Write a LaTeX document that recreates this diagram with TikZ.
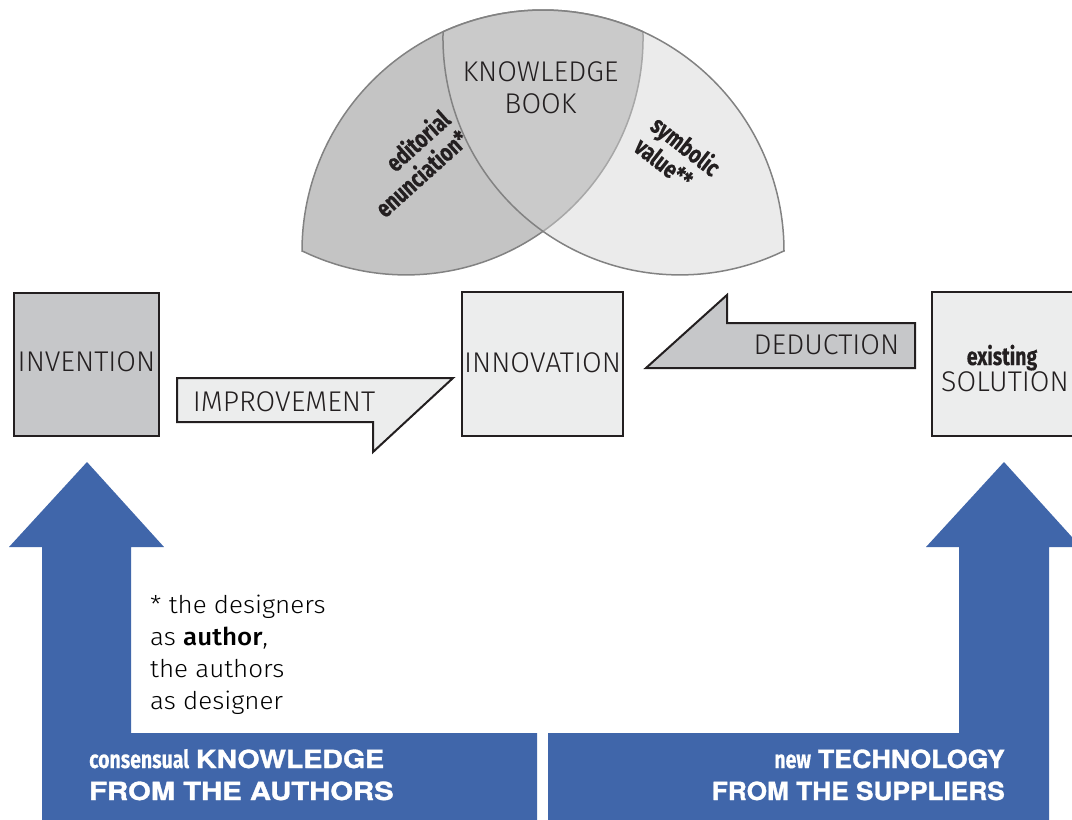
\documentclass[tikz,border=0pt]{standalone}
\usepackage{fontspec}
\usepackage{graphicx}
\setmainfont{Fira Sans Light}[BoldFont={Fira Sans Medium}]
\newfontfamily\firab{Fira Sans}[BoldFeatures={FakeBold=0.4}]
\newfontfamily\heros{TeX Gyre Heros}[BoldFeatures={FakeBold=1.2}]
\definecolor{boxdark}{HTML}{C6C7C9}
\definecolor{boxlight}{HTML}{ECEDED}
\definecolor{linedark}{HTML}{231F20}
\definecolor{bblue}{HTML}{4066AA}
\definecolor{lensleft}{HTML}{C4C4C4}
\definecolor{lensright}{HTML}{D3D3D3}
\definecolor{lensline}{HTML}{828282}
\newcommand{\cnd}[1]{{\firab\bfseries\scalebox{0.78}[1]{#1}}}
\newcommand{\hvy}[2][1.15]{{\heros\bfseries\scalebox{#1}[1]{#2}}}
\newcommand{\wid}[1]{\scalebox{1.06}[1]{#1}}
\begin{document}
\begin{tikzpicture}[x=1pt,y=1pt,
  box/.style={draw=linedark, line width=2pt, inner sep=0pt},
  shapearrow/.style={draw=linedark, line width=2pt, line join=miter},
  lbl/.style={font=\fontsize{28.5}{30}\selectfont, text=linedark, anchor=base, inner sep=0pt},
  lens/.style={draw=lensline, line width=1.5pt},
  rot/.style={font=\fontsize{25}{27}\selectfont, text=linedark, inner sep=0pt},
  note/.style={font=\fontsize{24.5}{32}\selectfont, text=black, anchor=base west, inner sep=0pt},
  bar/.style={font=\fontsize{25}{30}\selectfont, text=white, inner sep=0pt}]
\useasboundingbox (0,0) rectangle (1072,-820);
\clip (0,0) rectangle (1072,-820);
% lenses
\path[lens, fill=lensleft] (302,-251) arc[start angle=180,end angle=65.5,radius=241pt]
  arc[start angle=1.5,end angle=-115.6,radius=237pt] -- cycle;
\path[lens, fill=lensright, fill opacity=0.46] (784,-251) arc[start angle=0,end angle=114.5,radius=241pt]
  arc[start angle=178.5,end angle=295.6,radius=237pt] -- cycle;
\node[lbl] (kb1) at (540.5,-81.7) {KNOWLEDGE};
\node[lbl] (kb2) at (540.5,-113.3) {BOOK};
\node[rot, rotate=42, align=right] (edit) at (412,-163) {\cnd{editorial}\\\cnd{enunciation*}};
\node[rot, rotate=-38, align=left] (symb) at (678,-156) {\cnd{symbolic}\\\cnd{value**}};
% boxes
\node[box, fill=boxdark, minimum width=145pt, minimum height=143pt] (inv) at (86.5,-364.5) {};
\node[lbl] (invt) at (86.5,-371.7) {INVENTION};
\node[box, fill=boxlight, minimum width=161pt, minimum height=144pt] (inn) at (542.5,-364) {};
\node[lbl] (innt) at (542.5,-372) {INNOVATION};
\node[box, fill=boxlight, minimum width=160pt, minimum height=144pt] (sol) at (1012,-364) {};
\node[lbl, font=\fontsize{25}{28}\selectfont] (solt0) at (1002,-365) {\cnd{existing}};
\node[lbl] (solt) at (1005,-391.7) {SOLUTION};
% arrows
\draw[shapearrow, fill=boxlight] (177,-378) -- (453,-378) -- (373,-452) -- (373,-422) -- (177,-422) -- cycle;
\node[lbl] (impt) at (284,-411.7) {IMPROVEMENT};
\draw[shapearrow, fill=boxdark] (727,-295) -- (727,-323) -- (915,-323) -- (915,-368) -- (646,-368) -- cycle;
\node[lbl] (dedt) at (826.5,-354) {DEDUCTION};
% blue arrows
\fill[bblue] (87,-462) -- (164,-547) -- (131,-547) -- (131,-733) -- (537,-733) -- (537,-825)
  -- (42,-825) -- (42,-547) -- (9,-547) -- cycle;
\fill[bblue] (1004,-462) -- (1081,-547) -- (1049,-547) -- (1049,-825) -- (548,-825) -- (548,-733)
  -- (959,-733) -- (959,-547) -- (926,-547) -- cycle;
\node[bar, anchor=base west] (bl1) at (89,-768) {\cnd{consensual} \hvy[1.14]{KNOWLEDGE}};
\node[bar, anchor=base west] (bl2) at (89,-800) {\hvy[1.17]{FROM THE AUTHORS}};
\node[bar, anchor=base east] (br1) at (1005,-768) {\cnd{new} \hvy[1.07]{TECHNOLOGY}};
\node[bar, anchor=base east] (br2) at (1005,-800) {\hvy[1.05]{FROM THE SUPPLIERS}};
% note
\node[note] (n1) at (150,-613) {\wid{* the designers}};
\node[note] (n2) at (150,-645) {\wid{as \textbf{author},}};
\node[note] (n3) at (150,-677) {\wid{the authors}};
\node[note] (n4) at (150,-709) {\wid{as designer}};
\end{tikzpicture}
\end{document}
